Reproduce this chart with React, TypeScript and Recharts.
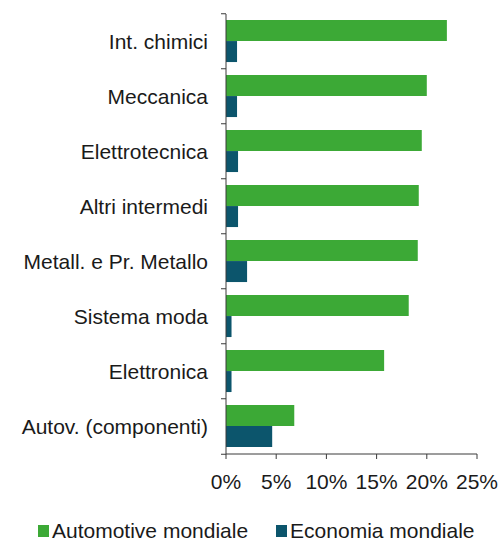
import React from 'react';
import { BarChart, Bar, XAxis, YAxis, Legend } from 'recharts';

const categories = [
  'Int. chimici',
  'Meccanica',
  'Elettrotecnica',
  'Altri intermedi',
  'Metall. e Pr. Metallo',
  'Sistema moda',
  'Elettronica',
  'Autov. (componenti)',
];
const automotive = [22.0, 20.0, 19.5, 19.2, 19.1, 18.2, 15.75, 6.8];
const economia = [1.1, 1.1, 1.2, 1.2, 2.1, 0.55, 0.55, 4.6];
const xTicks = [0, 5, 10, 15, 20, 25];

const GREEN = '#3ca936';
const TEAL = '#0c556c';
const AXIS = '#3a3a3a';
const TEXT = '#1a1a1a';
const FONT = '"Liberation Sans", Arial, sans-serif';
const FS = 21;

const data = categories.map((name, i) => ({
  name,
  automotive: automotive[i],
  economia: economia[i],
}));

const W = 504;
const H = 541;
const M = { top: 14, right: 27, bottom: 19, left: 0 };
const PLOT_H = 444;
const band = PLOT_H / categories.length;

const CategoryTick = (props: any) => {
  const { x, y, payload, index } = props;
  const axisX = x + 18;
  return (
    <g>
      <line x1={axisX - 5} x2={axisX} y1={y - band / 2} y2={y - band / 2} stroke={AXIS} />
      {index === categories.length - 1 && (
        <line x1={axisX - 5} x2={axisX} y1={y + band / 2} y2={y + band / 2} stroke={AXIS} />
      )}
      <text x={x} y={y} dy={7} textAnchor="end" fill={TEXT} fontSize={FS} fontFamily={FONT}>
        {payload.value}
      </text>
    </g>
  );
};

const LegendContent = () => (
  <div
    style={{
      display: 'flex',
      justifyContent: 'flex-start',
      gap: 28,
      fontFamily: FONT,
      fontSize: FS,
      color: TEXT,
      paddingLeft: 38,
      height: 28,
      alignItems: 'center',
    }}
  >
    {[
      { label: 'Automotive mondiale', color: GREEN },
      { label: 'Economia mondiale', color: TEAL },
    ].map((it) => (
      <span key={it.label} style={{ display: 'flex', alignItems: 'center' }}>
        <span style={{ width: 11, height: 12, background: it.color, display: 'inline-block', marginRight: 3 }} />
        {it.label}
      </span>
    ))}
  </div>
);

export default function App() {
  return (
    <div style={{ position: 'absolute', left: 0, top: 0, width: W, height: H, background: '#fff' }}>
      <BarChart
        width={W}
        height={H}
        data={data}
        layout="vertical"
        margin={M}
        barCategoryGap="11%"
        barGap={0}
      >
        <XAxis
          type="number"
          domain={[0, 25]}
          ticks={xTicks}
          tickFormatter={(v) => `${v}%`}
          interval={0}
          tick={{ fill: TEXT, fontSize: FS, fontFamily: FONT }}
          stroke={AXIS}
          tickSize={5}
          tickMargin={15}
          height={40}
        />
        <YAxis
          type="category"
          dataKey="name"
          width={226}
          stroke={AXIS}
          tickLine={false}
          tickSize={6}
          tickMargin={12}
          interval={0}
          tick={<CategoryTick />}
        />
        <Legend
          verticalAlign="bottom"
          content={<LegendContent />}
          wrapperStyle={{ bottom: -4 }}
        />
        <Bar dataKey="automotive" fill={GREEN} isAnimationActive={false} />
        <Bar dataKey="economia" fill={TEAL} isAnimationActive={false} />
      </BarChart>
    </div>
  );
}
